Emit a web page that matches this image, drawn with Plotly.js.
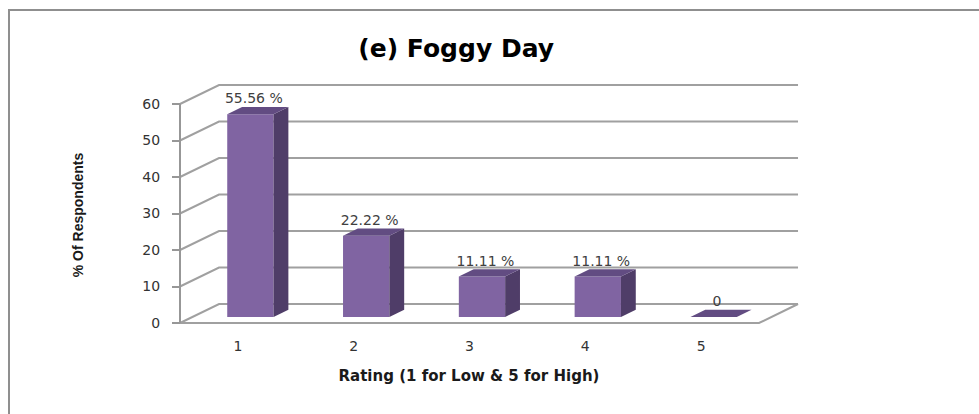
<!DOCTYPE html>
<html>
<head>
<meta charset="utf-8">
<script src="https://cdn.plot.ly/plotly-3.0.1.min.js"></script>
<style>
  html, body { margin: 0; padding: 0; background: #ffffff; }
  #wrap { position: relative; width: 979px; height: 414px; overflow: hidden; }
  #chart { position: absolute; left: 0; top: 0; width: 979px; height: 414px; }
  #frame { position: absolute; left: 8px; top: 9px; width: 1100px; height: 600px;
           border-left: 2px solid #8f8f8f; border-top: 2px solid #8f8f8f; pointer-events: none; }
</style>
</head>
<body>
<div id="wrap">
  <div id="chart"></div>
  <div id="frame"></div>
</div>
<script>
// ---- data ----
const categories = [1, 2, 3, 4, 5];
const tickLabels = ["1", "2", "3", "4", "5"];
const values = [55.56, 22.22, 11.11, 11.11, 0];
const valueLabels = ["55.56 %", "22.22 %", "11.11 %", "11.11 %", "0"];
const yTicks = [0, 10, 20, 30, 40, 50, 60];

// ---- pseudo-3D styling constants ----
const DX = 0.337;   // depth offset along x (data units)
const DY = 5.2;     // depth offset along y (data units)
const W = 0.4;      // bar width
const Z0 = 0.32;    // bar front depth fraction
const Z1 = 0.70;    // bar back depth fraction
const gridColor = "#a0a0a0";
const frontColor = "#8064a2";
const sideColor = "#4f3d68";
const topColor = "#624c82";

const xMin = categories[0] - 0.5;
const xMax = categories[categories.length - 1] + 0.5;
const yTop = yTicks[yTicks.length - 1];

// frame lines (walls) as shapes below traces
const shapes = [];
function pathOf(pts) {
  return pts.map((p, i) => (i ? "L" : "M") + p[0] + "," + p[1]).join(" ");
}
yTicks.forEach(v => {
  shapes.push({type: "path", xref: "x", yref: "y", layer: "below",
    path: pathOf([[xMin, v], [xMin + DX, v + DY], [xMax + DX, v + DY]]),
    line: {color: gridColor, width: 2}});
});
shapes.push({type: "path", xref: "x", yref: "y", layer: "below",
  path: pathOf([[xMin, 0], [xMax, 0], [xMax + DX, DY]]),
  line: {color: gridColor, width: 2}});
shapes.push({type: "path", xref: "x", yref: "y", layer: "below",
  path: pathOf([[xMin, 0], [xMin, yTop]]),
  line: {color: "#979797", width: 2}});

const traces = [];
// front faces
traces.push({
  type: "bar",
  x: categories.map(c => c + Z0 * DX),
  y: values,
  base: values.map(() => Z0 * DY),
  width: W,
  marker: {color: frontColor, line: {width: 0}},
  hoverinfo: "skip",
  showlegend: false
});
// side and top faces
categories.forEach((c, i) => {
  const v = values[i];
  const xl = c - W / 2, xr = c + W / 2;
  traces.push({
    type: "scatter", mode: "lines", fill: "toself", fillcolor: sideColor,
    line: {width: 0, color: sideColor}, hoverinfo: "skip", showlegend: false,
    x: [xr + Z0 * DX, xr + Z1 * DX, xr + Z1 * DX, xr + Z0 * DX, xr + Z0 * DX],
    y: [Z0 * DY, Z1 * DY, v + Z1 * DY, v + Z0 * DY, Z0 * DY]
  });
  traces.push({
    type: "scatter", mode: "lines", fill: "toself", fillcolor: topColor,
    line: {width: 0, color: topColor}, hoverinfo: "skip", showlegend: false,
    x: [xl + Z0 * DX, xr + Z0 * DX, xr + Z1 * DX, xl + Z1 * DX, xl + Z0 * DX],
    y: [v + Z0 * DY, v + Z0 * DY, v + Z1 * DY, v + Z1 * DY, v + Z0 * DY]
  });
});
// value labels
traces.push({
  type: "scatter", mode: "text",
  x: categories.map(c => c + Z0 * DX + 0.03),
  y: values.map(v => v + Z1 * DY),
  text: valueLabels,
  textposition: "top center",
  textfont: {family: "DejaVu Sans", size: 14, color: "#404040"},
  cliponaxis: false, hoverinfo: "skip", showlegend: false
});

const layout = {
  width: 979, height: 414,
  margin: {l: 138, r: 179, t: 82, b: 66, pad: 0},
  paper_bgcolor: "#ffffff", plot_bgcolor: "rgba(0,0,0,0)",
  showlegend: false,
  title: {
    text: "(e) Foggy Day",
    font: {family: "DejaVu Sans", size: 25, color: "#000000", weight: "bold"},
    xref: "container", yref: "container",
    x: 0.466, xanchor: "center", y: 0.884, yanchor: "middle"
  },
  xaxis: {
    range: [0.1373, 5.854],
    anchor: "free", position: 0.094,
    tickmode: "array", tickvals: categories, ticktext: tickLabels,
    showgrid: false, zeroline: false, showline: false,
    ticks: "", ticklabelstandoff: 13,
    tickfont: {family: "DejaVu Sans", size: 14, color: "#333333"},
    title: {
      text: "Rating (1 for Low & 5 for High)",
      font: {family: "DejaVu Sans", size: 15, color: "#1a1a1a", weight: "bold"},
      standoff: 17
    },
    fixedrange: true
  },
  yaxis: {
    range: [-6.85, 66.03],
    anchor: "free", position: 0.0634,
    tickmode: "array", tickvals: yTicks,
    showgrid: false, zeroline: false, showline: false,
    ticks: "outside", ticklen: 8, tickwidth: 2, tickcolor: "#979797",
    ticklabelstandoff: 9,
    tickfont: {family: "DejaVu Sans", size: 14, color: "#333333"},
    title: {
      text: "% Of Respondents",
      font: {family: "Liberation Sans Narrow, Liberation Sans", size: 14, color: "#1a1a1a", weight: "bold"},
      standoff: 54
    },
    fixedrange: true
  },
  shapes: shapes,
  barmode: "overlay"
};

Plotly.newPlot("chart", traces, layout, {displayModeBar: false, staticPlot: true});
</script>
</body>
</html>
